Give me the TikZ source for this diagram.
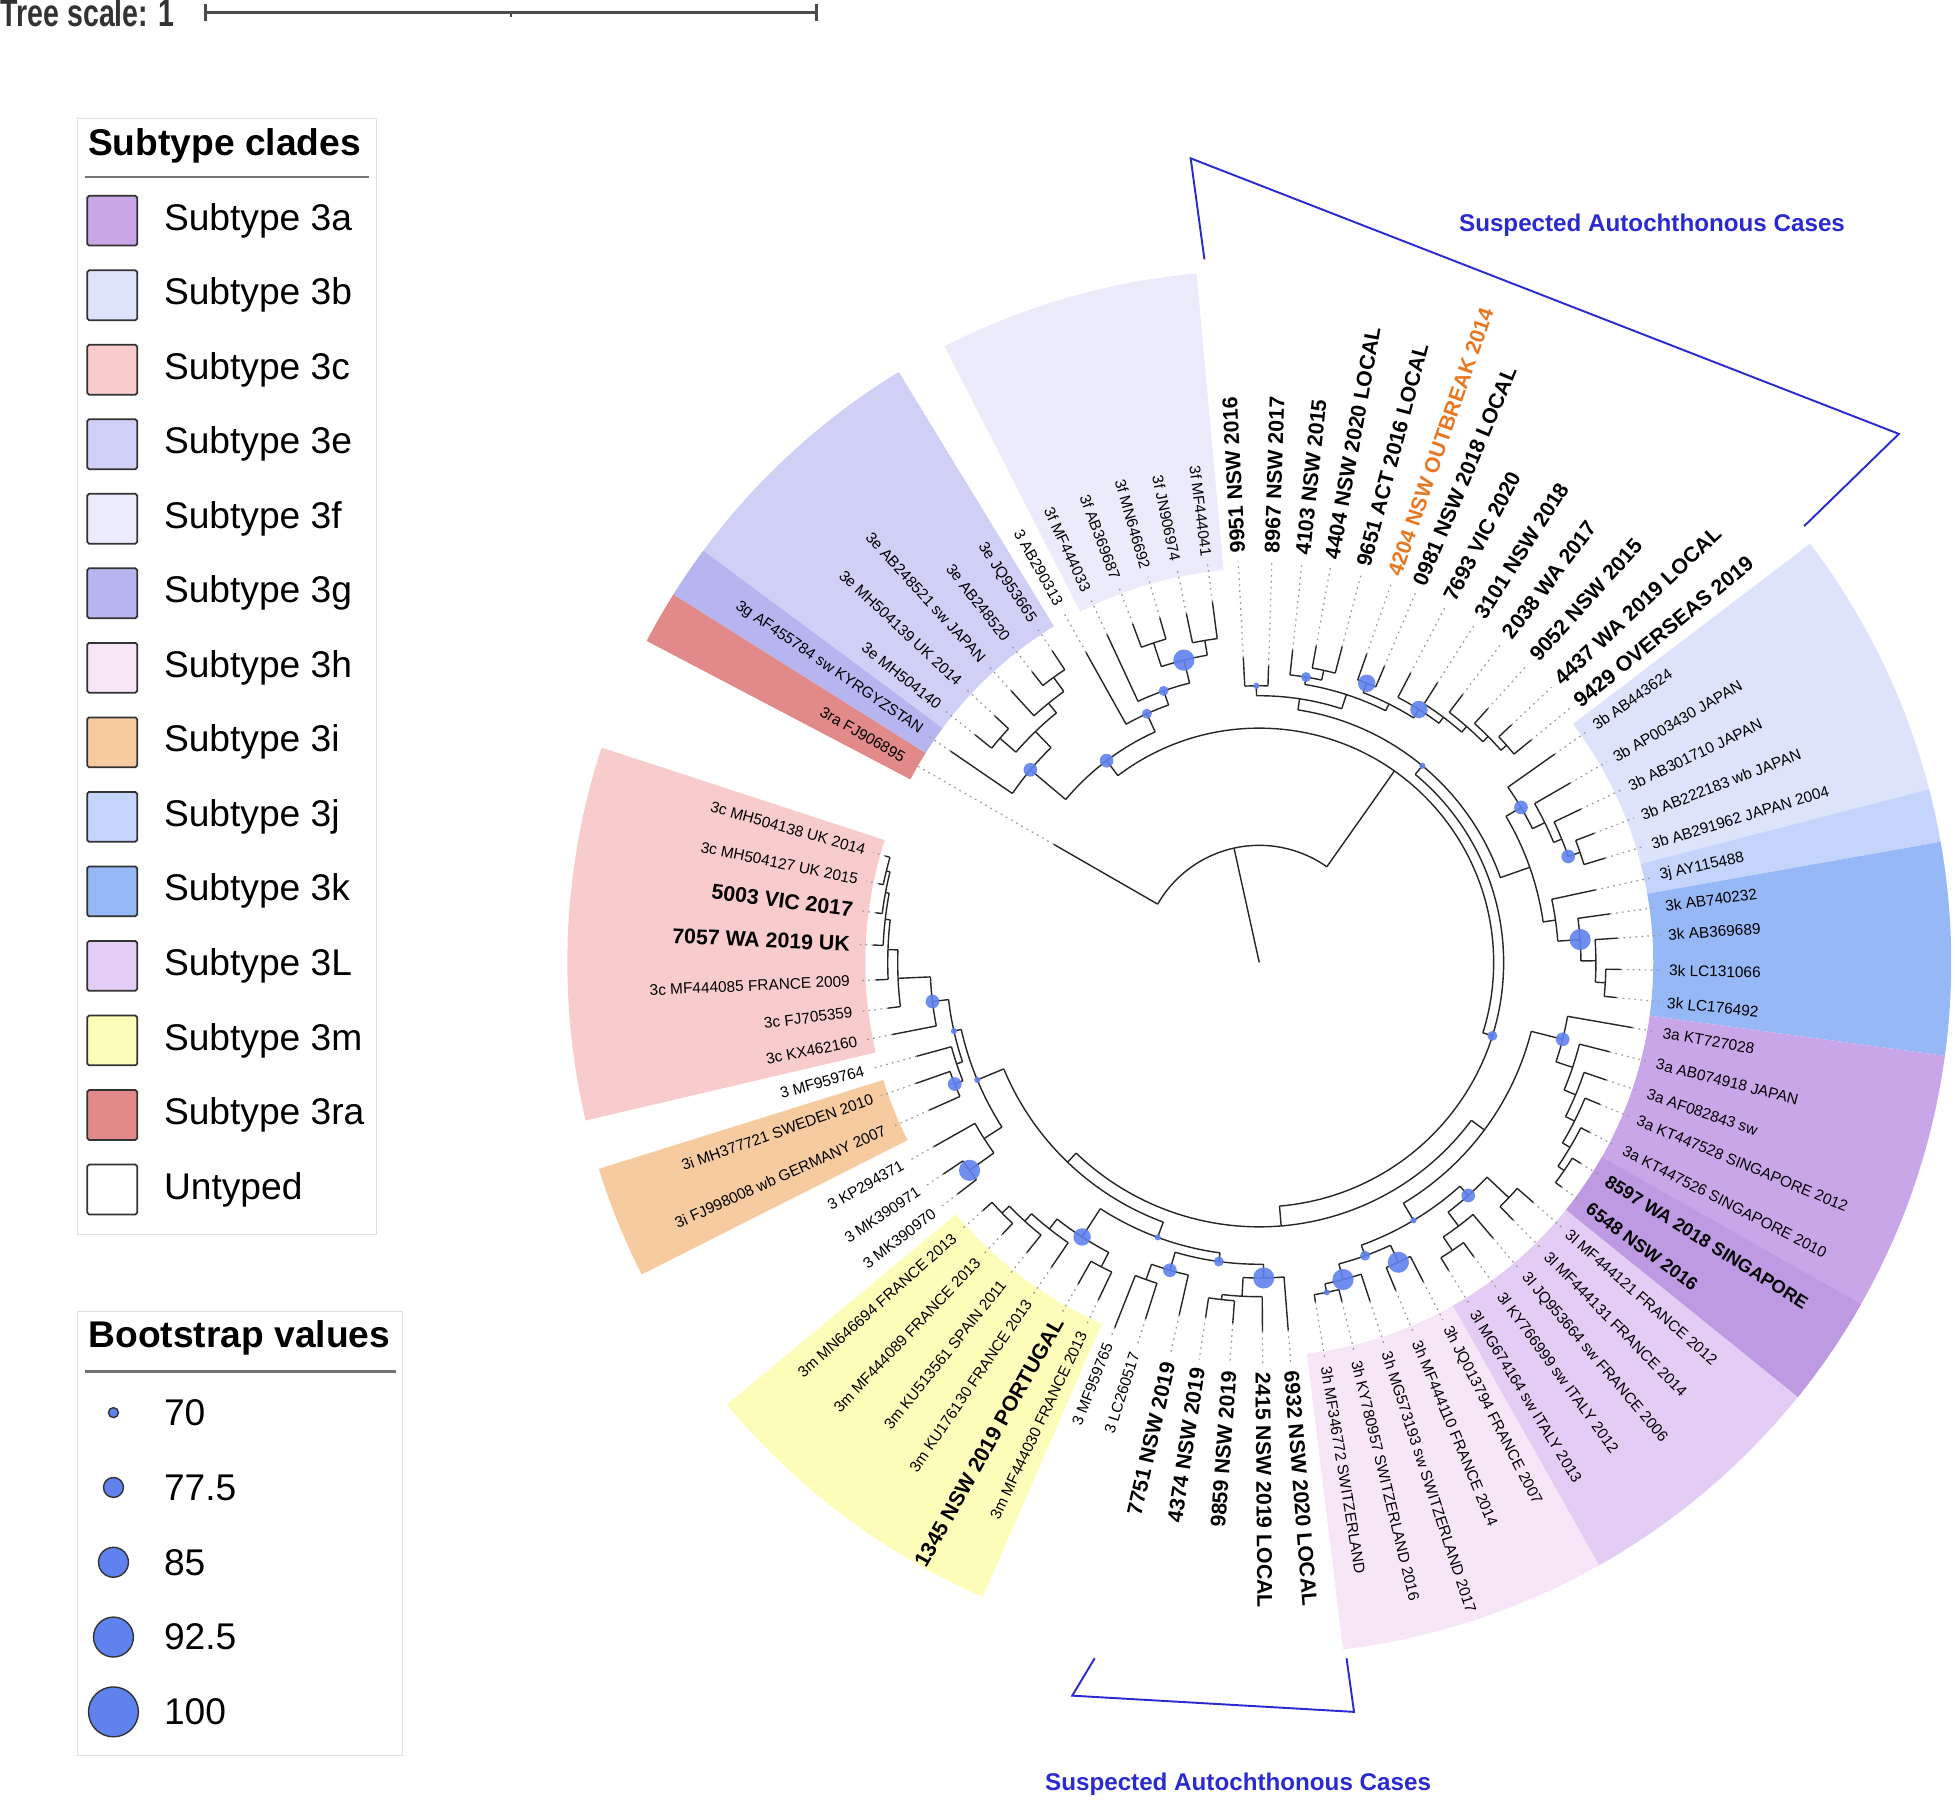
\documentclass[tikz,border=0pt]{standalone}
\usepackage{fontspec}
\setmainfont{Liberation Sans}
\usepackage{tikz}
\usepackage{xcolor}

\definecolor{cA}{HTML}{C9A6E8}
\definecolor{cAd}{HTML}{BE9AE3}
\definecolor{cB}{HTML}{DCE3FB}
\definecolor{cC}{HTML}{F8CCCC}
\definecolor{cE}{HTML}{D0D0F7}
\definecolor{cF}{HTML}{EBEBFB}
\definecolor{cG}{HTML}{B7B5F0}
\definecolor{cH}{HTML}{F6E6F8}
\definecolor{cI}{HTML}{F5CB9F}
\definecolor{cJ}{HTML}{C4D4FB}
\definecolor{cK}{HTML}{97B8F7}
\definecolor{cL}{HTML}{E4CDF5}
\definecolor{cM}{HTML}{FDFCB8}
\definecolor{cR}{HTML}{E28A8A}
\definecolor{bootblue}{HTML}{5F82EE}
\definecolor{casesblue}{HTML}{2A2AD0}
\definecolor{outbreak}{HTML}{E87722}

\tikzset{
  branch/.style={draw=black!85, line width=0.4pt},
  leader/.style={draw=black!40, line width=0.35pt, dash pattern=on 0.5pt off 1.2pt},
  lab/.style={inner sep=0.8pt, font=\fontsize{4.39}{5.2}\selectfont},
  labb/.style={inner sep=0.8pt, font=\bfseries\fontsize{6.07}{7}\selectfont},
  labbs/.style={inner sep=0.8pt, font=\bfseries\fontsize{5.2}{6}\selectfont},
  labo/.style={labb, text=outbreak},
  boot/.style={fill=bootblue, fill opacity=0.9},
  bootleg/.style={fill=bootblue, draw=black!80, line width=0.4pt},
  swatch/.style={draw=black!80, line width=0.5pt, rounded corners=0.5pt},
  legtext/.style={inner sep=0pt, font=\fontsize{10.6}{12}\selectfont},
  legtitle/.style={font=\bfseries\fontsize{10.6}{12}\selectfont},
  casebrk/.style={draw=casesblue, line width=0.55pt},
  caselab/.style={text=casesblue, font=\bfseries\fontsize{6.9}{8}\selectfont}
}

% arc-sector behind a clade
\newcommand{\cladebg}[3]{%
  \fill[#1] (#2:316) arc[start angle=#2, end angle=#3, radius=316]
    -- (#3:555) arc[start angle=#3, end angle=#2, radius=555] -- cycle;}
% inner node: angle, parent radius, node radius, arc from, arc to
\newcommand{\brn}[5]{%
  \draw[branch] (#1:#2) -- (#1:#3);
  \draw[branch] (#4:#3) arc[start angle=#4, end angle=#5, radius=#3];}
% leaf: angle, parent radius, tip radius, name, style, text
\newcommand{\brl}[6]{%
  \draw[branch] (#1:#2) -- (#1:#3);
  \draw[leader] (#1:#3) -- (#1:322);
  \pgfmathsetmacro{\flipv}{cos(#1)}%
  \ifdim\flipv pt<-0.06pt
    \node[#5, anchor=east, rotate=#1+180] (#4) at (#1:326) {#6};
  \else
    \node[#5, anchor=west, rotate=#1] (#4) at (#1:326) {#6};
  \fi}
\newcommand{\bsd}[3]{\fill[boot] (#1:#2) circle[radius=#3];}

\begin{document}
\begin{tikzpicture}[x=0.0125cm, y=0.0125cm]
\useasboundingbox (0,0) rectangle (1568,-1444);

% tree scale
\node[anchor=west, inner sep=0pt, text=black!80, font=\bfseries\fontsize{11}{12}\selectfont] (scale) at (0,-10) {\scalebox{0.74}[1]{Tree scale: 1}};
\draw[draw=black!70, line width=0.7pt] (165,-10) -- (655,-10);
\draw[draw=black!70, line width=0.7pt] (165,-3) -- (165,-17) (655,-3) -- (655,-17) (410,-10) -- (410,-14);

% subtype legend
\draw[draw=black!12, line width=0.4pt] (62,-95) rectangle (302,-990);
\node[legtitle] (legA) at (180,-117) {Subtype clades};
\draw[draw=black!55, line width=0.6pt] (68,-142) -- (296,-142);
\foreach \nm/\col [count=\k from 0] in {3a/cA, 3b/cB, 3c/cC, 3e/cE, 3f/cF, 3g/cG, 3h/cH, 3i/cI, 3j/cJ, 3k/cK, 3L/cL, 3m/cM, 3ra/cR}{
  \pgfmathsetmacro{\yy}{-(177+59.77*\k)}
  \draw[swatch, fill=\col] (70,\yy-20) rectangle (110,\yy+20);
  \node[legtext, anchor=west] (sub\k) at (131,\yy) {Subtype \nm};
}
\draw[swatch, fill=white] (70,-934) rectangle (110,-974);
\node[legtext, anchor=west] (untyped) at (131,-954) {Untyped};

% bootstrap legend
\draw[draw=black!12, line width=0.4pt] (62,-1052) rectangle (323,-1408);
\node[legtitle] (legB) at (192,-1073) {Bootstrap values};
\draw[draw=black!55, line width=0.6pt] (68,-1100) -- (318,-1100);
\foreach \v/\rr [count=\k from 0] in {70/4, 77.5/8, 85/12, 92.5/16, 100/20}{
  \pgfmathsetmacro{\yy}{-(1133+60*\k)}
  \draw[bootleg] (91,\yy) circle[radius=\rr];
  \node[legtext, anchor=west] (bv\k) at (131,\yy) {\v};
}

% suspected cases brackets
\draw[casebrk] (966,-208) -- (955,-127) -- (1523,-348) -- (1447,-422);
\node[caselab] (casesTop) at (1325,-181) {Suspected Autochthonous Cases};
\draw[casebrk] (878,-1330) -- (860,-1360) -- (1086,-1373) -- (1080,-1330);
\node[caselab] (casesBot) at (993,-1431) {Suspected Autochthonous Cases};

\begin{scope}[shift={(1010,-772)}]
% clade ranges
\cladebg{cB}{37.25}{14.5}
\cladebg{cJ}{14.5}{10.05}
\cladebg{cK}{10.05}{-7.75}
\cladebg{cA}{-7.75}{-38.9}
\cladebg{cAd}{-29.6}{-38.9}
\cladebg{cL}{-38.9}{-60.6}
\cladebg{cH}{-60.6}{-83.05}
\cladebg{cM}{-113.55}{-140.3}
\cladebg{cI}{-153.2}{-162.65}
\cladebg{cC}{-166.8}{-198.1}
\cladebg{cR}{-207.7}{-212.15}
\cladebg{cG}{-212.15}{-216.55}
\cladebg{cE}{-216.55}{-238.6}
\cladebg{cF}{-242.95}{-264.8}

% root
\draw[branch] (0,0) -- (102.45:94);
\draw[branch] (150.1:94) arc[start angle=150.1, end angle=54.8, radius=94];
\brl{150.1}{94}{190}{ra}{lab}{3ra FJ906895}
\brn{54.8}{94}{188}{127.1}{-17.45}
% 3e 3f 3g
\brn{127.1}{188}{203}{139.9}{114.3}
\brn{139.9}{203}{240}{145.6}{134.1}
\brl{145.6}{240}{300}{g1}{lab}{3g AF455784 sw KYRGYZSTAN}
\brn{134.1}{240}{258}{139.15}{129.1}
\brn{139.15}{258}{275}{141.3}{137.0}
\brl{141.3}{275}{292}{e1}{lab}{3e MH504140}
\brl{137.0}{275}{290}{e2}{lab}{3e MH504139 UK 2014}
\brn{129.1}{258}{268}{132.4}{125.8}
\brl{132.4}{268}{295}{e3}{lab}{3e AB248521 sw JAPAN}
\brn{125.8}{268}{282}{128.0}{123.6}
\brl{128.0}{282}{296}{e4}{lab}{3e AB248520}
\brl{123.6}{282}{300}{e5}{lab}{3e JQ953665}
\brn{114.3}{203}{219}{119.2}{109.4}
\brl{119.2}{219}{285}{u1}{lab}{3 AB290313}
\brn{109.4}{219}{231}{114.9}{104.0}
\brl{114.9}{231}{290}{f1}{lab}{3f MF444033}
\brn{104.0}{231}{250}{108.3}{99.6}
\brn{108.3}{250}{270}{110.5}{106.1}
\brl{110.5}{270}{290}{f2}{lab}{3f AB369687}
\brl{106.1}{270}{288}{f3}{lab}{3f MN646692}
\brn{99.6}{250}{262}{101.8}{97.4}
\brl{101.8}{262}{286}{f4}{lab}{3f JN906974}
\brl{97.4}{262}{292}{f5}{lab}{3f MF444041}
% rest of the tree
\brn{-17.45}{188}{196}{50.35}{-85.25}
\brn{50.35}{196}{205}{81.3}{19.4}
\brn{81.3}{205}{214}{90.6}{72.0}
\brn{90.6}{214}{222}{93.0}{88.2}
\brl{93.0}{222}{245}{t1}{labb}{9951 NSW 2016}
\brl{88.2}{222}{238}{t2}{labb}{8967 NSW 2017}
\brn{72.0}{214}{226}{80.7}{63.35}
\brn{80.7}{226}{232}{83.9}{77.55}
\brl{83.9}{232}{252}{t3}{labb}{4103 NSW 2015}
\brn{77.55}{232}{240}{79.8}{75.3}
\brl{79.8}{240}{258}{t4}{labb}{4404 NSW 2020 LOCAL}
\brl{75.3}{240}{262}{t5}{labb}{9651 ACT 2016 LOCAL}
\brn{63.35}{226}{232}{68.95}{57.75}
\brn{68.95}{232}{240}{70.8}{67.1}
\brl{70.8}{240}{262}{t6}{labo}{4204 NSW OUTBREAK 2014}
\brl{67.1}{240}{258}{t7}{labb}{0981 NSW 2018 LOCAL}
\brn{57.75}{232}{240}{62.4}{53.1}
\brl{62.4}{240}{262}{t8}{labb}{7693 VIC 2020}
\brn{53.1}{240}{246}{57.5}{48.7}
\brl{57.5}{246}{266}{t9}{labb}{3101 NSW 2018}
\brn{48.7}{246}{252}{52.8}{44.65}
\brl{52.8}{252}{270}{t10}{labb}{2038 WA 2017}
\brn{44.65}{252}{258}{48.0}{41.3}
\brl{48.0}{258}{274}{t11}{labb}{9052 NSW 2015}
\brn{41.3}{258}{264}{43.3}{39.3}
\brl{43.3}{264}{278}{t12}{labb}{4437 WA 2019 LOCAL}
\brl{39.3}{264}{282}{t13}{labb}{9429 OVERSEAS 2019}
% 3b 3j 3k
\brn{19.4}{205}{230}{30.65}{8.15}
\brn{30.65}{230}{244}{35.2}{26.1}
\brl{35.2}{244}{290}{b1}{lab}{3b AB443624}
\brn{26.1}{244}{255}{30.0}{22.2}
\brl{30.0}{255}{288}{b2}{lab}{3b AP003430 JAPAN}
\brn{22.2}{255}{262}{25.5}{18.95}
\brl{25.5}{262}{286}{b3}{lab}{3b AB301710 JAPAN}
\brn{18.95}{262}{272}{21.1}{16.8}
\brl{21.1}{272}{288}{b4}{lab}{3b AB222183 wb JAPAN}
\brl{16.8}{272}{290}{b5}{lab}{3b AB291962 JAPAN 2004}
\brn{8.15}{230}{240}{12.2}{4.1}
\brl{12.2}{240}{276}{j1}{lab}{3j AY115488}
\brn{4.1}{240}{258}{7.9}{0.3}
\brl{7.9}{258}{284}{k1}{lab}{3k AB740232}
\brn{0.3}{258}{270}{3.9}{-3.35}
\brl{3.9}{270}{288}{k2}{lab}{3k AB369689}
\brn{-3.35}{270}{278}{-1.1}{-5.6}
\brl{-1.1}{278}{290}{k3}{lab}{3k LC131066}
\brl{-5.6}{278}{288}{k4}{lab}{3k LC176492}
% 3a 3l 3h
\brn{-85.25}{196}{212}{-36.65}{-133.85}
\brn{-36.65}{212}{225}{-14.2}{-59.1}
\brn{-14.2}{225}{251}{-9.9}{-18.5}
\brl{-9.9}{251}{304}{a1}{lab}{3a KT727028}
\brn{-18.5}{251}{265}{-14.3}{-22.7}
\brl{-14.3}{265}{290}{a2}{lab}{3a AB074918 JAPAN}
\brn{-22.7}{265}{275}{-18.7}{-26.7}
\brl{-18.7}{275}{294}{a3}{lab}{3a AF082843 sw}
\brn{-26.7}{275}{283}{-22.6}{-30.75}
\brl{-22.6}{283}{296}{a4}{lab}{3a KT447528 SINGAPORE 2012}
\brn{-30.75}{283}{290}{-27.2}{-34.3}
\brl{-27.2}{290}{298}{a5}{lab}{3a KT447526 SINGAPORE 2010}
\brn{-34.3}{290}{296}{-32.0}{-36.6}
\brl{-32.0}{296}{304}{a6}{labbs}{8597 WA 2018 SINGAPORE}
\brl{-36.6}{296}{302}{a7}{labbs}{6548 NSW 2016}
\brn{-59.1}{225}{241}{-48.1}{-70.15}
\brn{-48.1}{241}{251}{-43.3}{-52.9}
\brn{-43.3}{251}{275}{-41.2}{-45.4}
\brl{-41.2}{275}{292}{l1}{lab}{3l MF444121 FRANCE 2012}
\brl{-45.4}{275}{290}{l2}{lab}{3l MF444131 FRANCE 2014}
\brn{-52.9}{251}{265}{-49.7}{-56.15}
\brl{-49.7}{265}{290}{l3}{lab}{3l JQ953664 sw FRANCE 2006}
\brn{-56.15}{265}{278}{-53.9}{-58.4}
\brl{-53.9}{278}{292}{l4}{lab}{3l KY766999 sw ITALY 2012}
\brl{-58.4}{278}{290}{l5}{lab}{3l MG674164 sw ITALY 2013}
\brn{-70.15}{241}{250}{-65.1}{-75.2}
\brn{-65.1}{250}{265}{-62.8}{-67.4}
\brl{-62.8}{265}{288}{h1}{lab}{3h JQ013794 FRANCE 2007}
\brl{-67.4}{265}{285}{h2}{lab}{3h MF444110 FRANCE 2014}
\brn{-75.2}{250}{263}{-71.9}{-78.45}
\brl{-71.9}{263}{286}{h3}{lab}{3h MG573193 sw SWITZERLAND 2017}
\brn{-78.45}{263}{270}{-76.3}{-80.6}
\brl{-76.3}{270}{280}{h4}{lab}{3h KY780957 SWITZERLAND 2016}
\brl{-80.6}{270}{276}{h5}{lab}{3h MF346772 SWITZERLAND}
% bottom cases and 3m
\brn{-133.85}{212}{222}{-110.3}{-157.4}
\brn{-110.3}{222}{235}{-97.7}{-122.85}
\brn{-97.7}{235}{242}{-89.2}{-106.2}
\brn{-89.2}{242}{253}{-85.5}{-92.95}
\brl{-85.5}{253}{296}{s1}{labb}{6932 NSW 2020 LOCAL}
\brn{-92.95}{253}{268}{-89.5}{-96.4}
\brl{-89.5}{268}{296}{s2}{labb}{2415 NSW 2019 LOCAL}
\brn{-96.4}{268}{272}{-94.2}{-98.6}
\brl{-94.2}{272}{290}{s3}{labb}{9859 NSW 2019}
\brl{-98.6}{272}{288}{s4}{labb}{4374 NSW 2019}
\brn{-106.2}{242}{257}{-102.8}{-109.65}
\brl{-102.8}{257}{290}{s5}{labb}{7751 NSW 2019}
\brn{-109.65}{257}{270}{-107.7}{-111.6}
\brl{-107.7}{270}{300}{u2}{lab}{3 LC260517}
\brl{-111.6}{270}{315}{u3}{lab}{3 MF959765}
\brn{-122.85}{235}{262}{-117.45}{-128.25}
\brn{-117.45}{262}{275}{-115.5}{-119.4}
\brl{-115.5}{275}{300}{m1}{lab}{3m MF444030 FRANCE 2013}
\brl{-119.4}{275}{296}{m2}{labb}{1345 NSW 2019 PORTUGAL}
\brn{-128.25}{262}{272}{-124.3}{-132.2}
\brl{-124.3}{272}{296}{m3}{lab}{3m KU176130 FRANCE 2013}
\brn{-132.2}{272}{280}{-128.7}{-135.75}
\brl{-128.7}{280}{298}{m4}{lab}{3m KU513561 SPAIN 2011}
\brn{-135.75}{280}{288}{-133.4}{-138.1}
\brl{-133.4}{288}{300}{m5}{lab}{3m MF444089 FRANCE 2013}
\brl{-138.1}{288}{298}{m6}{lab}{3m MN646694 FRANCE 2013}
% 3i 3c and untyped
\brn{-157.4}{222}{245}{-147.4}{-167.35}
\brn{-147.4}{245}{262}{-144.35}{-150.5}
\brn{-144.35}{262}{286}{-142.5}{-146.2}
\brl{-142.5}{286}{305}{u4}{lab}{3 MK390970}
\brl{-146.2}{286}{305}{u5}{lab}{3 MK390971}
\brl{-150.5}{262}{300}{u6}{lab}{3 KP294371}
\brn{-167.35}{245}{251}{-161.5}{-173.2}
\brn{-161.5}{251}{256}{-158.25}{-164.7}
\brn{-158.25}{256}{263}{-155.9}{-160.6}
\brl{-155.9}{263}{290}{i1}{lab}{3i FJ998008 wb GERMANY 2007}
\brl{-160.6}{263}{292}{i2}{lab}{3i MH377721 SWEDEN 2010}
\brl{-164.7}{256}{285}{u7}{lab}{3 MF959764}
\brn{-173.2}{251}{264}{-168.9}{-177.5}
\brl{-168.9}{264}{300}{c1}{lab}{3c KX462160}
\brn{-177.5}{264}{290}{-173.0}{-182.0}
\brl{-173.0}{290}{300}{c2}{lab}{3c FJ705359}
\brn{-182.0}{290}{298}{-177.4}{-186.6}
\brl{-177.4}{298}{308}{c3}{lab}{3c MF444085 FRANCE 2009}
\brn{-186.6}{298}{302}{-182.6}{-190.6}
\brl{-182.6}{302}{310}{c4}{labb}{7057 WA 2019 UK}
\brn{-190.6}{302}{305}{-187.4}{-193.8}
\brl{-187.4}{305}{310}{c5}{labb}{5003 VIC 2017}
\brn{-193.8}{305}{308}{-191.7}{-195.9}
\brl{-191.7}{308}{312}{c6}{lab}{3c MH504127 UK 2015}
\brl{-195.9}{308}{312}{c7}{lab}{3c MH504138 UK 2014}

% bootstrap support
\bsd{127.1}{203}{5.5} \bsd{139.9}{240}{5.5} \bsd{114.3}{219}{4} \bsd{109.4}{231}{4}
\bsd{104.0}{250}{8.5} \bsd{90.6}{222}{2.5} \bsd{80.7}{232}{4} \bsd{68.95}{240}{7}
\bsd{57.75}{240}{7} \bsd{50.35}{205}{2.5} \bsd{30.65}{244}{5.5} \bsd{18.95}{262}{5.5}
\bsd{4.1}{258}{8.5} \bsd{-17.45}{196}{4} \bsd{-14.2}{251}{5.5} \bsd{-48.1}{251}{5.5}
\bsd{-59.1}{241}{2.5} \bsd{-70.15}{250}{4} \bsd{-65.1}{265}{8.5} \bsd{-75.2}{263}{8.5}
\bsd{-78.45}{270}{2.5} \bsd{-89.2}{253}{8.5} \bsd{-97.7}{242}{4} \bsd{-106.2}{257}{5.5}
\bsd{-110.3}{235}{2.5} \bsd{-122.85}{262}{7} \bsd{-144.35}{286}{8.5} \bsd{-157.4}{245}{2.5}
\bsd{-158.25}{263}{5.5} \bsd{-167.35}{251}{2.5} \bsd{-173.2}{264}{5.5}
\end{scope}
\end{tikzpicture}
\end{document}
